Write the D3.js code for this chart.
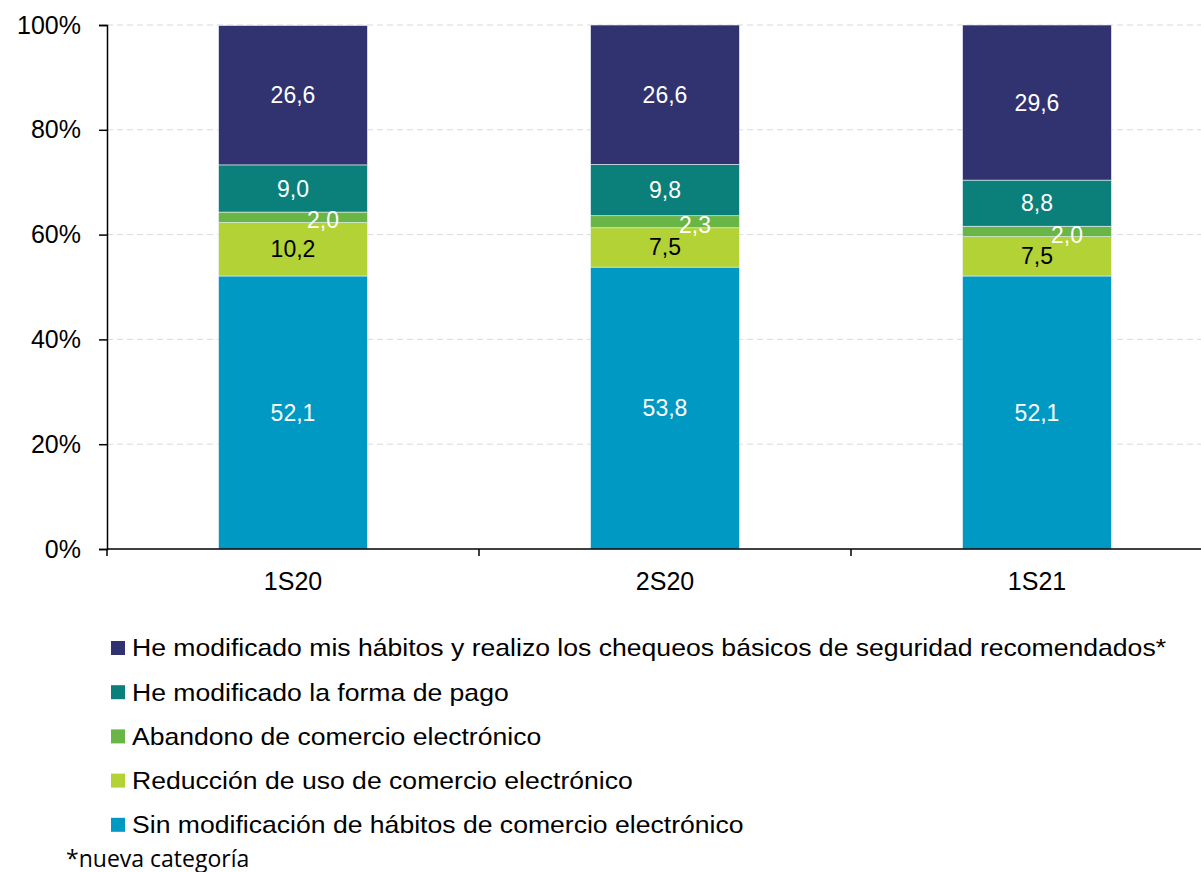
<!DOCTYPE html>
<html>
<head>
<meta charset="utf-8">
<script src="https://cdn.jsdelivr.net/npm/d3@7"></script>
<style>
  body { margin: 0; background: #fff; }
  svg { display: block; font-family: Arial, "Liberation Sans", sans-serif; }
</style>
</head>
<body>
<div id="chart"></div>
<script>
const periods = ["1S20", "2S20", "1S21"];
const seriesNames = [
    "Sin modificación de hábitos de comercio electrónico",
    "Reducción de uso de comercio electrónico",
    "Abandono de comercio electrónico",
    "He modificado la forma de pago",
    "He modificado mis hábitos y realizo los chequeos básicos de seguridad recomendados*"
];
const sinModificacion = [52.1, 53.8, 52.1];
const reduccion = [10.2, 7.5, 7.5];
const abandono = [2.0, 2.3, 2.0];
const formaPago = [9.0, 9.8, 8.8];
const chequeos = [26.6, 26.6, 29.6];
const yTicks = [0, 20, 40, 60, 80, 100];
const footnote = "*nueva categoría";

const colours = ["#0099c3", "#b2d235", "#69b545", "#0b7f7a", "#303370"];
const labelColours = ["#fff", "#000", "#fff", "#fff", "#fff"];

const seriesValues = [sinModificacion, reduccion, abandono, formaPago, chequeos];
const rows = periods.map((p, i) => {
    const row = { period: p };
    seriesNames.forEach((s, j) => row[s] = seriesValues[j][i]);
    return row;
});
const stacked = d3.stack().keys(seriesNames)(rows);

const W = 1201, H = 872;
const margin = { top: 25, left: 107 };
const plotW = 1116, plotH = 524;

const svg = d3.select("#chart").append("svg")
    .attr("width", W)
    .attr("height", H);

const g = svg.append("g")
    .attr("transform", `translate(${margin.left},${margin.top})`);

const x = d3.scaleBand()
    .domain(periods)
    .range([0, plotW])
    .paddingInner(0.6)
    .paddingOuter(0.3);

const xEdge = d3.scaleLinear().domain([0, periods.length]).range([0, plotW]);

const y = d3.scaleLinear()
    .domain([0, 100])
    .range([plotH, 0]);

// gridlines
g.append("g")
    .selectAll("line")
    .data(yTicks.filter(d => d > 0))
    .join("line")
    .attr("x1", 0)
    .attr("x2", plotW)
    .attr("y1", d => y(d))
    .attr("y2", d => y(d))
    .attr("stroke", "#d9d9d9")
    .attr("stroke-width", 1)
    .attr("stroke-dasharray", "6,4");

// bars
const layers = g.append("g")
    .selectAll("g")
    .data(stacked)
    .join("g")
    .attr("fill", (d, i) => colours[i]);

layers.selectAll("rect")
    .data(d => d)
    .join("rect")
    .attr("x", d => x(d.data.period))
    .attr("width", x.bandwidth())
    .attr("y", d => y(Math.min(d[1], 100)))
    .attr("height", d => y(d[0]) - y(Math.min(d[1], 100)))
    .attr("stroke", "#e8f1f5")
    .attr("stroke-width", 0.6);

// value labels
const fmt = v => v.toFixed(1).replace(".", ",");
stacked.forEach((layer, i) => {
    g.append("g")
        .selectAll("text")
        .data(layer)
        .join("text")
        .attr("x", d => x(d.data.period) + x.bandwidth() / 2 + (i === 2 ? 30 : 0))
        .attr("y", d => y((d[0] + d[1]) / 2) + (i === 2 ? 3 : 0))
        .attr("dy", "0.35em")
        .attr("text-anchor", "middle")
        .attr("font-size", 23)
        .attr("fill", labelColours[i])
        .text(d => fmt(d[1] - d[0]));
});

// y axis
const yAxis = g.append("g")
    .call(d3.axisLeft(y).tickValues(yTicks).tickFormat(d => d + "%").tickSize(8).tickPadding(18));
yAxis.select(".domain").attr("stroke", "#000").attr("stroke-width", 1.5);
yAxis.selectAll(".tick line").attr("stroke", "#000").attr("stroke-width", 1.5);
yAxis.selectAll("text").attr("font-size", 25).attr("fill", "#000").attr("font-family", "Arial, 'Liberation Sans', sans-serif");

// x axis
const xAxisG = g.append("g").attr("transform", `translate(0,${plotH})`);
xAxisG.append("line")
    .attr("x1", 0).attr("x2", plotW)
    .attr("stroke", "#000").attr("stroke-width", 1.5);
xAxisG.selectAll(".xtick")
    .data(d3.range(periods.length + 1))
    .join("line")
    .attr("x1", d => xEdge(d)).attr("x2", d => xEdge(d))
    .attr("y1", 0).attr("y2", 7)
    .attr("stroke", "#000").attr("stroke-width", 1.5);
xAxisG.selectAll(".xlabel")
    .data(periods)
    .join("text")
    .attr("x", d => x(d) + x.bandwidth() / 2)
    .attr("y", 41)
    .attr("text-anchor", "middle")
    .attr("font-size", 25)
    .attr("fill", "#000")
    .text(d => d);

// legend (text is slightly wider than plain Arial in the original)
const legend = svg.append("g").attr("transform", "translate(111,648)");
const legendOrder = seriesNames.map((s, i) => i).reverse();
legendOrder.forEach((si, row) => {
    const item = legend.append("g").attr("transform", `translate(0,${row * 44.2})`);
    item.append("rect")
        .attr("x", 0).attr("y", -7)
        .attr("width", 14).attr("height", 14)
        .attr("fill", colours[si]);
    item.append("text")
        .attr("transform", "translate(21,0) scale(1.108,1)")
        .attr("dy", "0.35em")
        .attr("font-size", 24)
        .attr("fill", "#000")
        .text(seriesNames[si]);
});

svg.append("text")
    .attr("x", 66)
    .attr("y", 867)
    .attr("font-family", "'Open Sans', 'Noto Sans', sans-serif")
    .attr("font-size", 23)
    .attr("fill", "#000")
    .text(footnote);
</script>
</body>
</html>
